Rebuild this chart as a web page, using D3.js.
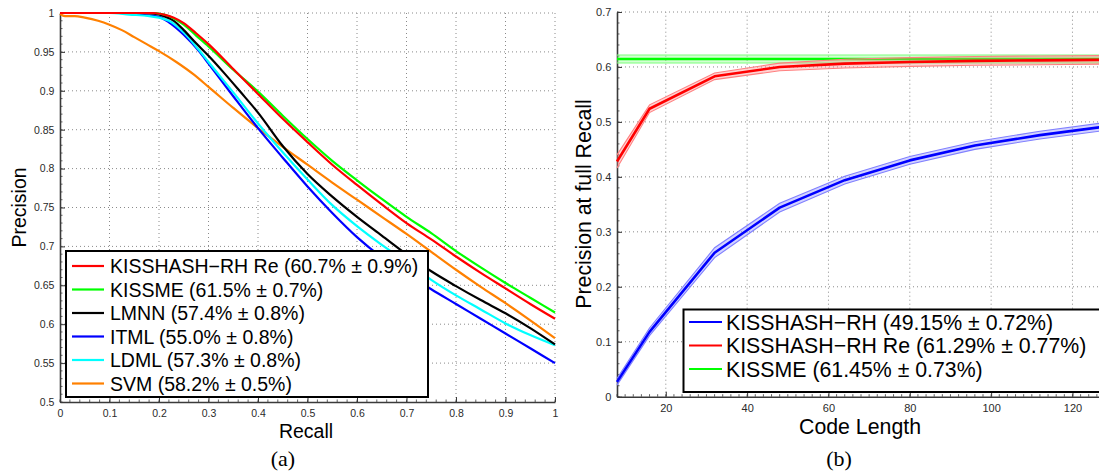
<!DOCTYPE html>
<html>
<head>
<meta charset="utf-8">
<script src="https://cdn.jsdelivr.net/npm/d3@7"></script>
<style>
  body { margin: 0; background: #fff; }
  text { font-family: "Liberation Sans", Arial, Helvetica, sans-serif; }
  .caption { font-family: "Liberation Serif", "Times New Roman", serif; }
</style>
</head>
<body>
<svg id="fig" width="1099" height="475"></svg>
<script>
// ---------- Panel (a): precision / recall curves ----------
const recallTicks = [0, 0.1, 0.2, 0.3, 0.4, 0.5, 0.6, 0.7, 0.8, 0.9, 1];
const precisionTicks = [0.5, 0.55, 0.6, 0.65, 0.7, 0.75, 0.8, 0.85, 0.9, 0.95, 1];

// [recall, precision]
const kisshashRe = [[0,1],[0.19,1],[0.21,0.998],[0.23,0.994],[0.25,0.987],[0.275,0.974],[0.3,0.96],[0.35,0.928],[0.4,0.896],[0.45,0.864],[0.5,0.834],[0.55,0.805],[0.6,0.779],[0.65,0.754],[0.7,0.73],[0.75,0.709],[0.8,0.687],[0.85,0.666],[0.9,0.646],[0.95,0.626],[1,0.607]];
const kissme = [[0,1],[0.19,1],[0.21,0.998],[0.23,0.993],[0.25,0.985],[0.275,0.971],[0.3,0.957],[0.35,0.927],[0.4,0.899],[0.45,0.868],[0.5,0.838],[0.55,0.81],[0.6,0.785],[0.65,0.761],[0.7,0.738],[0.75,0.717],[0.8,0.694],[0.85,0.673],[0.9,0.653],[0.95,0.634],[1,0.615]];
const lmnn = [[0,1],[0.16,1],[0.19,0.999],[0.21,0.996],[0.23,0.99],[0.25,0.978],[0.275,0.961],[0.3,0.945],[0.33,0.924],[0.364,0.899],[0.4,0.872],[0.45,0.829],[0.5,0.793],[0.55,0.764],[0.6,0.738],[0.65,0.714],[0.7,0.69],[0.75,0.668],[0.8,0.649],[0.85,0.631],[0.9,0.614],[0.95,0.595],[1,0.574]];
const itml = [[0,1],[0.12,1],[0.16,0.998],[0.2,0.995],[0.22,0.988],[0.25,0.972],[0.282,0.95],[0.3,0.935],[0.35,0.893],[0.4,0.852],[0.45,0.814],[0.5,0.777],[0.55,0.743],[0.6,0.712],[0.65,0.686],[0.7,0.665],[0.75,0.645],[0.8,0.626],[0.85,0.607],[0.9,0.588],[0.95,0.569],[1,0.55]];
const ldml = [[0,1],[0.1,1],[0.14,0.998],[0.18,0.996],[0.2,0.994],[0.22,0.99],[0.25,0.975],[0.28,0.953],[0.3,0.937],[0.35,0.898],[0.4,0.858],[0.45,0.821],[0.5,0.786],[0.55,0.753],[0.6,0.726],[0.65,0.702],[0.7,0.68],[0.75,0.657],[0.8,0.637],[0.85,0.619],[0.9,0.601],[0.95,0.586],[1,0.573]];
const svm = [[0,0.999],[0.01,0.996],[0.03,0.996],[0.05,0.994],[0.077,0.99],[0.1,0.985],[0.125,0.978],[0.15,0.969],[0.175,0.96],[0.2,0.951],[0.235,0.937],[0.27,0.921],[0.3,0.905],[0.35,0.878],[0.4,0.852],[0.45,0.828],[0.5,0.805],[0.55,0.782],[0.6,0.76],[0.65,0.738],[0.7,0.716],[0.75,0.693],[0.8,0.67],[0.85,0.648],[0.9,0.627],[0.95,0.605],[1,0.582]];

const prLegendLabels = [
  "KISSHASH\u2212RH Re (60.7% \u00b1 0.9%)",
  "KISSME (61.5% \u00b1 0.7%)",
  "LMNN (57.4% \u00b1 0.8%)",
  "ITML (55.0% \u00b1 0.8%)",
  "LDML (57.3% \u00b1 0.8%)",
  "SVM (58.2% \u00b1 0.5%)"
];

// ---------- Panel (b): precision at full recall vs. code length ----------
const codeLengths = [8, 16, 32, 48, 64, 80, 96, 112, 128];
const codeLengthTicks = [20, 40, 60, 80, 100, 120];
const fullRecallTicks = [0, 0.1, 0.2, 0.3, 0.4, 0.5, 0.6, 0.7];
const hashMean   = [0.027, 0.118, 0.262, 0.344, 0.394, 0.430, 0.457, 0.476, 0.4915];
const hashStd    = [0.006, 0.007, 0.009, 0.008, 0.007, 0.007, 0.007, 0.007, 0.0072];
const hashReMean = [0.428, 0.524, 0.583, 0.600, 0.606, 0.609, 0.611, 0.612, 0.6129];
const hashReStd  = [0.012, 0.007, 0.006, 0.007, 0.008, 0.008, 0.008, 0.008, 0.0077];
const kissmeMean = [0.6145, 0.6145, 0.6145, 0.6145, 0.6145, 0.6145, 0.6145, 0.6145, 0.6145];
const kissmeStd  = [0.0073, 0.0073, 0.0073, 0.0073, 0.0073, 0.0073, 0.0073, 0.0073, 0.0073];

const codeLegendLabels = [
  "KISSHASH\u2212RH (49.15% \u00b1 0.72%)",
  "KISSHASH\u2212RH Re (61.29% \u00b1 0.77%)",
  "KISSME (61.45% \u00b1 0.73%)"
];

// ---------- drawing ----------
const svg = d3.select("#fig");
const gridColor = "#8a8a8a";
const axisColor = "#3a3a3a";

function drawFrame(g, x, y, xTicks, yTicks, xMinor, yMinor, fontSize, fmtX, fmtY) {
  const [x0, x1] = x.range();
  const [y0, y1] = y.range();
  // dotted grid
  g.append("g").selectAll("line").data(xTicks.filter(v => x(v) > x0 + 1)).join("line")
    .attr("x1", d => x(d)).attr("x2", d => x(d)).attr("y1", y0).attr("y2", y1)
    .attr("stroke", gridColor).attr("stroke-width", 1).attr("stroke-dasharray", "1,3");
  g.append("g").selectAll("line").data(yTicks.filter(v => y(v) < y0 - 1)).join("line")
    .attr("x1", x0).attr("x2", x1).attr("y1", d => y(d)).attr("y2", d => y(d))
    .attr("stroke", gridColor).attr("stroke-width", 1).attr("stroke-dasharray", "1,3");

  // axes (ticks point inward)
  const ax = g.append("g").attr("transform", `translate(0,${y0})`)
    .call(d3.axisBottom(x).tickValues(xTicks).tickSizeInner(-5).tickSizeOuter(0).tickPadding(8).tickFormat(fmtX));
  const ay = g.append("g").attr("transform", `translate(${x0},0)`)
    .call(d3.axisLeft(y).tickValues(yTicks).tickSizeInner(-5).tickSizeOuter(0).tickPadding(4).tickFormat(fmtY));
  [ax, ay].forEach(a => {
    a.select(".domain").attr("stroke", axisColor).attr("stroke-width", 1.6);
    a.selectAll(".tick line").attr("stroke", axisColor).attr("stroke-width", 1);
    a.selectAll(".tick text").attr("fill", "#2a2a2a").style("font-size", fontSize + "px")
      .style("font-family", "'Liberation Sans', Arial, sans-serif");
  });
  ay.selectAll(".tick text").attr("dx", "-0.15em");
  // minor ticks
  g.append("g").selectAll("line").data(xMinor).join("line")
    .attr("x1", d => x(d)).attr("x2", d => x(d)).attr("y1", y0).attr("y2", y0 - 2.5)
    .attr("stroke", axisColor).attr("stroke-width", 0.8);
  g.append("g").selectAll("line").data(yMinor).join("line")
    .attr("x1", x0).attr("x2", x0 + 2.5).attr("y1", d => y(d)).attr("y2", d => y(d))
    .attr("stroke", axisColor).attr("stroke-width", 0.8);
}

function drawLegend(g, box, rows, lineX, textX, rowY, fontSize) {
  g.append("rect").attr("x", box.x).attr("y", box.y).attr("width", box.w).attr("height", box.h)
    .attr("fill", "#fff").attr("stroke", "#000").attr("stroke-width", 2);
  rows.forEach((r, i) => {
    g.append("line").attr("x1", lineX[0]).attr("x2", lineX[1]).attr("y1", rowY[i]).attr("y2", rowY[i])
      .attr("stroke", r.color).attr("stroke-width", 2.2);
    g.append("text").attr("x", textX).attr("y", rowY[i]).attr("dy", "0.36em")
      .style("font-size", fontSize + "px").attr("fill", "#000").text(r.label);
  });
}

// ----- panel (a) -----
{
  const x = d3.scaleLinear().domain([0, 1]).range([60, 555]);
  const y = d3.scaleLinear().domain([0.5, 1]).range([402, 13]);
  const g = svg.append("g");
  const xMinor = d3.range(0, 1.0001, 0.02).map(v => +v.toFixed(2));
  const yMinor = d3.range(0.5, 1.0001, 0.01).map(v => +v.toFixed(2));
  drawFrame(g, x, y, recallTicks, precisionTicks, xMinor, yMinor, 10.5, d3.format("~g"), d3.format("~g"));

  const line = d3.line().curve(d3.curveMonotoneX).x(d => x(d[0])).y(d => y(d[1]));
  const curves = [
    { data: svm, color: "#ff8000" },
    { data: itml, color: "#0000ff" },
    { data: ldml, color: "#00ffff" },
    { data: lmnn, color: "#000000" },
    { data: kissme, color: "#00ff00" },
    { data: kisshashRe, color: "#ff0000" }
  ];
  g.append("g").selectAll("path").data(curves).join("path")
    .attr("d", d => line(d.data)).attr("fill", "none")
    .attr("stroke", d => d.color).attr("stroke-width", 2.2).attr("stroke-linejoin", "round");

  const legendColors = ["#ff0000", "#00ff00", "#000000", "#0000ff", "#00ffff", "#ff8000"];
  drawLegend(g, { x: 66, y: 251, w: 362, h: 146 },
    prLegendLabels.map((l, i) => ({ label: l, color: legendColors[i] })),
    [72, 104], 110, [266, 289.5, 313, 336.5, 360, 383.5], 19.5);

  svg.append("text").attr("x", 306).attr("y", 438).attr("text-anchor", "middle")
    .style("font-size", "19.5px").text("Recall");
  svg.append("text").attr("transform", "translate(26,207.5) rotate(-90)").attr("text-anchor", "middle")
    .style("font-size", "19.5px").text("Precision");
  svg.append("text").attr("class", "caption").attr("x", 283).attr("y", 466).attr("text-anchor", "middle")
    .style("font-size", "22px").text("(a)");
}

// ----- panel (b) -----
{
  const x = d3.scaleLinear().domain([8, 128]).range([617, 1105]);
  const y = d3.scaleLinear().domain([0, 0.7]).range([396.7, 12]);
  const g = svg.append("g");
  const xMinor = d3.range(8, 128.001, 2);
  const yMinor = d3.range(0, 0.7001, 0.02).map(v => +v.toFixed(2));
  drawFrame(g, x, y, codeLengthTicks, fullRecallTicks, xMinor, yMinor, 11, d3.format("d"), d3.format("~g"));

  const series = [
    { mean: kissmeMean, std: kissmeStd, color: "#00ff00", band: "#7dff7d" },
    { mean: hashReMean, std: hashReStd, color: "#ff0000", band: "#ff8080" },
    { mean: hashMean, std: hashStd, color: "#0000ff", band: "#8080ff" }
  ];
  series.forEach(s => {
    const pts = codeLengths.map((c, i) => ({ c, m: s.mean[i], s: s.std[i] }));
    g.append("path").datum(pts)
      .attr("d", d3.area().x(d => x(d.c)).y0(d => y(d.m - d.s)).y1(d => y(d.m + d.s)))
      .attr("fill", s.band).attr("opacity", 0.35);
    [-1, 1].forEach(k => {
      g.append("path").datum(pts)
        .attr("d", d3.line().x(d => x(d.c)).y(d => y(d.m + k * d.s)))
        .attr("fill", "none").attr("stroke", s.band).attr("stroke-width", 1.1);
    });
    g.append("path").datum(pts)
      .attr("d", d3.line().x(d => x(d.c)).y(d => y(d.m)))
      .attr("fill", "none").attr("stroke", s.color).attr("stroke-width", 2.6).attr("stroke-linejoin", "round");
  });

  const legendColors = ["#0000ff", "#ff0000", "#00ff00"];
  drawLegend(g, { x: 683.5, y: 309.5, w: 430, h: 82.5 },
    codeLegendLabels.map((l, i) => ({ label: l, color: legendColors[i] })),
    [689, 722], 726, [322, 345.5, 369], 21.3);

  svg.append("text").attr("x", 860).attr("y", 434).attr("text-anchor", "middle")
    .style("font-size", "21.3px").text("Code Length");
  svg.append("text").attr("transform", "translate(591,204) rotate(-90)").attr("text-anchor", "middle")
    .style("font-size", "21.3px").text("Precision at full Recall");
  svg.append("text").attr("class", "caption").attr("x", 839).attr("y", 466).attr("text-anchor", "middle")
    .style("font-size", "22px").text("(b)");
}
</script>
</body>
</html>
